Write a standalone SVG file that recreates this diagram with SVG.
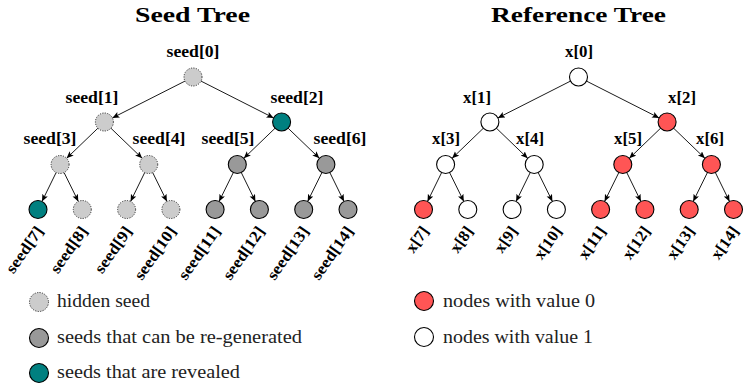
<svg xmlns="http://www.w3.org/2000/svg" width="746" height="386" viewBox="0 0 746 386">
<style>
.t{font-family:"Liberation Serif","DejaVu Serif",serif;font-weight:bold;font-size:21px;text-anchor:middle;fill:#000}
.l{font-family:"Liberation Serif","DejaVu Serif",serif;font-weight:bold;font-size:16px;text-anchor:middle;fill:#000}
.r{font-family:"Liberation Serif","DejaVu Serif",serif;font-weight:bold;font-size:16px;text-anchor:end;fill:#000}
.g{font-family:"Liberation Serif","DejaVu Serif",serif;font-size:19px;fill:#222}
.hid{fill:#cccccc;stroke:#333;stroke-width:1;stroke-dasharray:1.2 1.3}
.regen{fill:#999999;stroke:#000;stroke-width:1.1}
.rev{fill:#008080;stroke:#000;stroke-width:1.1}
.zero{fill:#ff5555;stroke:#000;stroke-width:1.1}
.one{fill:#ffffff;stroke:#000;stroke-width:1.1}
.e{stroke:#000;stroke-width:0.9;fill:none;marker-end:url(#ah)}
</style>
<defs>
<marker id="ah" markerUnits="userSpaceOnUse" markerWidth="8" markerHeight="7" refX="7" refY="3" orient="auto">
<path d="M0,0 L7,3 L0,6 L1.5,3 z" fill="#000"/>
</marker>
</defs>

<text class="t" x="192.5" y="22" textLength="115" lengthAdjust="spacingAndGlyphs">Seed Tree</text>
<text class="t" x="578.5" y="22" textLength="175" lengthAdjust="spacingAndGlyphs">Reference Tree</text>

<g id="connectors">
<line class="e" x1="185" y1="81.1" x2="112.4" y2="117.9"/>
<line class="e" x1="201" y1="81.1" x2="273.6" y2="117.9"/>
<line class="e" x1="97.9" y1="128.2" x2="66.6" y2="158.3"/>
<line class="e" x1="110.9" y1="128.2" x2="142.2" y2="158.3"/>
<line class="e" x1="275.1" y1="128.2" x2="243.8" y2="158.3"/>
<line class="e" x1="288.1" y1="128.2" x2="319.4" y2="158.3"/>
<line class="e" x1="56.1" y1="172.6" x2="42" y2="201.4"/>
<line class="e" x1="64.1" y1="172.6" x2="78.3" y2="201.4"/>
<line class="e" x1="144.7" y1="172.6" x2="130.6" y2="201.4"/>
<line class="e" x1="152.7" y1="172.6" x2="166.9" y2="201.4"/>
<line class="e" x1="233.3" y1="172.6" x2="219.1" y2="201.4"/>
<line class="e" x1="241.3" y1="172.6" x2="255.4" y2="201.4"/>
<line class="e" x1="321.9" y1="172.6" x2="307.7" y2="201.4"/>
<line class="e" x1="329.9" y1="172.6" x2="344" y2="201.4"/>

<line class="e" x1="570.5" y1="81.1" x2="497.9" y2="117.9"/>
<line class="e" x1="586.5" y1="81.1" x2="659.1" y2="117.9"/>
<line class="e" x1="483.4" y1="128.2" x2="452.1" y2="158.3"/>
<line class="e" x1="496.4" y1="128.2" x2="527.7" y2="158.3"/>
<line class="e" x1="660.6" y1="128.2" x2="629.3" y2="158.3"/>
<line class="e" x1="673.6" y1="128.2" x2="704.9" y2="158.3"/>
<line class="e" x1="441.6" y1="172.6" x2="427.5" y2="201.4"/>
<line class="e" x1="449.6" y1="172.6" x2="463.8" y2="201.4"/>
<line class="e" x1="530.2" y1="172.6" x2="516.1" y2="201.4"/>
<line class="e" x1="538.2" y1="172.6" x2="552.4" y2="201.4"/>
<line class="e" x1="618.8" y1="172.6" x2="604.6" y2="201.4"/>
<line class="e" x1="626.8" y1="172.6" x2="640.9" y2="201.4"/>
<line class="e" x1="707.4" y1="172.6" x2="693.2" y2="201.4"/>
<line class="e" x1="715.4" y1="172.6" x2="729.5" y2="201.4"/>
</g>

<g id="seed0"><circle class="hid" cx="193" cy="77" r="9"/><text class="l" x="193" y="57" textLength="53" lengthAdjust="spacingAndGlyphs">seed[0]</text></g>
<g id="seed1"><circle class="hid" cx="104.4" cy="122" r="9"/><text class="l" x="92" y="103" textLength="53" lengthAdjust="spacingAndGlyphs">seed[1]</text></g>
<g id="seed2"><circle class="rev" cx="281.6" cy="122" r="9"/><text class="l" x="297" y="103" textLength="53" lengthAdjust="spacingAndGlyphs">seed[2]</text></g>
<g id="seed3"><circle class="hid" cx="60.1" cy="164.5" r="9"/><text class="l" x="50" y="144" textLength="53" lengthAdjust="spacingAndGlyphs">seed[3]</text></g>
<g id="seed4"><circle class="hid" cx="148.7" cy="164.5" r="9"/><text class="l" x="159" y="144" textLength="53" lengthAdjust="spacingAndGlyphs">seed[4]</text></g>
<g id="seed5"><circle class="regen" cx="237.3" cy="164.5" r="9"/><text class="l" x="228" y="144" textLength="53" lengthAdjust="spacingAndGlyphs">seed[5]</text></g>
<g id="seed6"><circle class="regen" cx="325.9" cy="164.5" r="9"/><text class="l" x="340" y="144" textLength="53" lengthAdjust="spacingAndGlyphs">seed[6]</text></g>
<g id="seed7"><circle class="rev" cx="38" cy="209.5" r="9"/><text class="r" transform="translate(44,231) rotate(-55)" textLength="53" lengthAdjust="spacingAndGlyphs">seed[7]</text></g>
<g id="seed8"><circle class="hid" cx="82.3" cy="209.5" r="9"/><text class="r" transform="translate(88.3,231) rotate(-55)" textLength="53" lengthAdjust="spacingAndGlyphs">seed[8]</text></g>
<g id="seed9"><circle class="hid" cx="126.6" cy="209.5" r="9"/><text class="r" transform="translate(132.6,231) rotate(-55)" textLength="53" lengthAdjust="spacingAndGlyphs">seed[9]</text></g>
<g id="seed10"><circle class="hid" cx="170.9" cy="209.5" r="9"/><text class="r" transform="translate(176.9,231) rotate(-55)" textLength="61" lengthAdjust="spacingAndGlyphs">seed[10]</text></g>
<g id="seed11"><circle class="regen" cx="215.1" cy="209.5" r="9"/><text class="r" transform="translate(221.1,231) rotate(-55)" textLength="61" lengthAdjust="spacingAndGlyphs">seed[11]</text></g>
<g id="seed12"><circle class="regen" cx="259.4" cy="209.5" r="9"/><text class="r" transform="translate(265.4,231) rotate(-55)" textLength="61" lengthAdjust="spacingAndGlyphs">seed[12]</text></g>
<g id="seed13"><circle class="regen" cx="303.7" cy="209.5" r="9"/><text class="r" transform="translate(309.7,231) rotate(-55)" textLength="61" lengthAdjust="spacingAndGlyphs">seed[13]</text></g>
<g id="seed14"><circle class="regen" cx="348" cy="209.5" r="9"/><text class="r" transform="translate(354,231) rotate(-55)" textLength="61" lengthAdjust="spacingAndGlyphs">seed[14]</text></g>

<g id="x0"><circle class="one" cx="578.5" cy="77" r="9"/><text class="l" x="579" y="57" textLength="28" lengthAdjust="spacingAndGlyphs">x[0]</text></g>
<g id="x1"><circle class="one" cx="489.9" cy="122" r="9"/><text class="l" x="477" y="103" textLength="28" lengthAdjust="spacingAndGlyphs">x[1]</text></g>
<g id="x2"><circle class="zero" cx="667.1" cy="122" r="9"/><text class="l" x="682" y="103" textLength="28" lengthAdjust="spacingAndGlyphs">x[2]</text></g>
<g id="x3"><circle class="one" cx="445.6" cy="164.5" r="9"/><text class="l" x="446" y="144" textLength="28" lengthAdjust="spacingAndGlyphs">x[3]</text></g>
<g id="x4"><circle class="one" cx="534.2" cy="164.5" r="9"/><text class="l" x="530" y="144" textLength="28" lengthAdjust="spacingAndGlyphs">x[4]</text></g>
<g id="x5"><circle class="zero" cx="622.8" cy="164.5" r="9"/><text class="l" x="628" y="144" textLength="28" lengthAdjust="spacingAndGlyphs">x[5]</text></g>
<g id="x6"><circle class="zero" cx="711.4" cy="164.5" r="9"/><text class="l" x="710" y="144" textLength="28" lengthAdjust="spacingAndGlyphs">x[6]</text></g>
<g id="x7"><circle class="zero" cx="423.5" cy="209.5" r="9"/><text class="r" transform="translate(429.5,231) rotate(-55)" textLength="28" lengthAdjust="spacingAndGlyphs">x[7]</text></g>
<g id="x8"><circle class="one" cx="467.8" cy="209.5" r="9"/><text class="r" transform="translate(473.8,231) rotate(-55)" textLength="28" lengthAdjust="spacingAndGlyphs">x[8]</text></g>
<g id="x9"><circle class="one" cx="512.1" cy="209.5" r="9"/><text class="r" transform="translate(518.1,231) rotate(-55)" textLength="28" lengthAdjust="spacingAndGlyphs">x[9]</text></g>
<g id="x10"><circle class="one" cx="556.4" cy="209.5" r="9"/><text class="r" transform="translate(562.4,231) rotate(-55)" textLength="36" lengthAdjust="spacingAndGlyphs">x[10]</text></g>
<g id="x11"><circle class="zero" cx="600.6" cy="209.5" r="9"/><text class="r" transform="translate(606.6,231) rotate(-55)" textLength="36" lengthAdjust="spacingAndGlyphs">x[11]</text></g>
<g id="x12"><circle class="zero" cx="644.9" cy="209.5" r="9"/><text class="r" transform="translate(650.9,231) rotate(-55)" textLength="36" lengthAdjust="spacingAndGlyphs">x[12]</text></g>
<g id="x13"><circle class="zero" cx="689.2" cy="209.5" r="9"/><text class="r" transform="translate(695.2,231) rotate(-55)" textLength="36" lengthAdjust="spacingAndGlyphs">x[13]</text></g>
<g id="x14"><circle class="zero" cx="733.5" cy="209.5" r="9"/><text class="r" transform="translate(739.5,231) rotate(-55)" textLength="36" lengthAdjust="spacingAndGlyphs">x[14]</text></g>

<g id="legend-hidden"><circle class="hid" cx="39" cy="302" r="9.5"/><text class="g" x="57" y="307" textLength="93" lengthAdjust="spacingAndGlyphs">hidden seed</text></g>
<g id="legend-regen"><circle class="regen" cx="39" cy="338" r="9.5"/><text class="g" x="57" y="343" textLength="245" lengthAdjust="spacingAndGlyphs">seeds that can be re-generated</text></g>
<g id="legend-revealed"><circle class="rev" cx="39" cy="373" r="9.5"/><text class="g" x="57" y="378" textLength="183" lengthAdjust="spacingAndGlyphs">seeds that are revealed</text></g>
<g id="legend-zero"><circle class="zero" cx="424" cy="301" r="9.5"/><text class="g" x="443" y="307" textLength="152" lengthAdjust="spacingAndGlyphs">nodes with value 0</text></g>
<g id="legend-one"><circle class="one" cx="424" cy="337" r="9.5"/><text class="g" x="443" y="343" textLength="150" lengthAdjust="spacingAndGlyphs">nodes with value 1</text></g>
</svg>
